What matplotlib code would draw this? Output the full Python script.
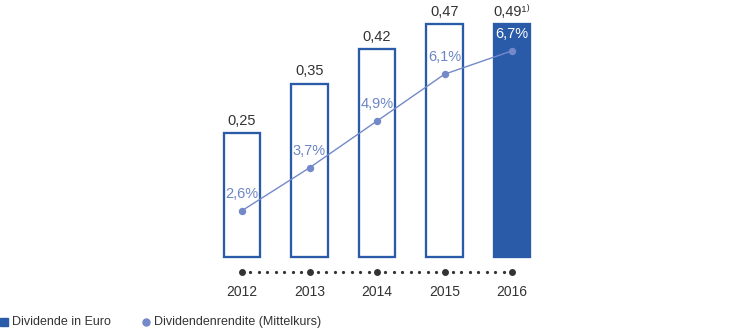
import matplotlib
matplotlib.use("Agg")
import matplotlib.pyplot as plt
import numpy as np
from matplotlib.lines import Line2D
from matplotlib.transforms import blended_transform_factory

plt.rcParams['font.family'] = ['Liberation Sans', 'DejaVu Sans']

# ---- data ----
years = ["2012", "2013", "2014", "2015", "2016"]
dividend_bars = [0.25, 0.35, 0.42, 0.47, 0.47]          # bar heights as drawn
dividend_labels = ["0,25", "0,35", "0,42", "0,47", "0,49\u00b9\u207e"]
yield_pct = [2.6, 3.7, 4.9, 6.1, 6.7]
yield_labels = ["2,6%", "3,7%", "4,9%", "6,1%", "6,7%"]
filled = [False, False, False, False, True]

BLUE = "#2a5ba8"
LINE = "#7489c9"
PCT_TXT = "#6d85c5"
DARK = "#333333"

W, H = 750, 328
fig = plt.figure(figsize=(W / 100, H / 100), dpi=100)

x0, step = 242, 67.5
xlim = (-x0 / step, (W - x0) / step)
x = np.arange(len(years))

# bar axes
ax = fig.add_axes([0, 0, 1, 1])
ax.set_xlim(*xlim)
ppu = 494.0
base = 256.5
ax.set_ylim(-(H - base) / ppu, base / ppu)
ax.axis('off')

lw_px = 2.3
for i, (v, f) in enumerate(zip(dividend_bars, filled)):
    ax.bar(x[i], v, width=0.544, color=BLUE if f else "white",
           edgecolor=BLUE, linewidth=lw_px * 0.72, zorder=2)
    ax.annotate(dividend_labels[i], (x[i], v), xytext=(0, 12.5 * 0.72),
                textcoords="offset points", ha="center", va="center",
                fontsize=10.5, color=DARK)

# percent axes
ax2 = fig.add_axes([0, 0, 1, 1])
ax2.patch.set_alpha(0)
ax2.set_xlim(*xlim)
pp = 38.98
zero = 312.0
ax2.set_ylim(-(H - zero) / pp, zero / pp)
ax2.axis('off')
ax2.plot(x, yield_pct, color=LINE, linewidth=1.0, marker="o",
         markersize=6 * 0.72, zorder=3)
for i, (v, lab) in enumerate(zip(yield_pct, yield_labels)):
    ax2.annotate(lab, (x[i], v), xytext=(0, 17 * 0.72), textcoords="offset points",
                 ha="center", va="center", fontsize=10.5,
                 color="white" if filled[i] else PCT_TXT)

# year axis with dots
tr = blended_transform_factory(ax.transData, fig.transFigure)
ydot = (H - 272) / H
ax.plot(x, [ydot] * len(x), linestyle="none", marker="o", markersize=5.5 * 0.72,
        color=DARK, transform=tr, clip_on=False)
small = np.concatenate([np.linspace(i, i + 1, 9)[1:-1] for i in range(len(x) - 1)])
ax.plot(small, [ydot] * len(small), linestyle="none", marker="o", markersize=1.8 * 0.72,
        color=DARK, transform=tr, clip_on=False)
for i, yr in enumerate(years):
    ax.text(x[i], (H - 292) / H, yr, transform=tr, ha="center", va="center",
            fontsize=10, color=DARK)

# legend
ly = (H - 321.5) / H
fig.add_artist(Line2D([4 / W], [ly], marker="s", markersize=8.5 * 0.72, color=BLUE,
                      linestyle="none", transform=fig.transFigure))
fig.text(12 / W, (H - 322) / H, "Dividende in Euro", ha="left", va="center",
         fontsize=9, color=DARK)
fig.add_artist(Line2D([146 / W], [ly], marker="o", markersize=7 * 0.72, color=LINE,
                      linestyle="none", transform=fig.transFigure))
fig.text(154 / W, (H - 322) / H, "Dividendenrendite (Mittelkurs)", ha="left",
         va="center", fontsize=9, color=DARK)

fig.savefig("out.png", dpi=100)
